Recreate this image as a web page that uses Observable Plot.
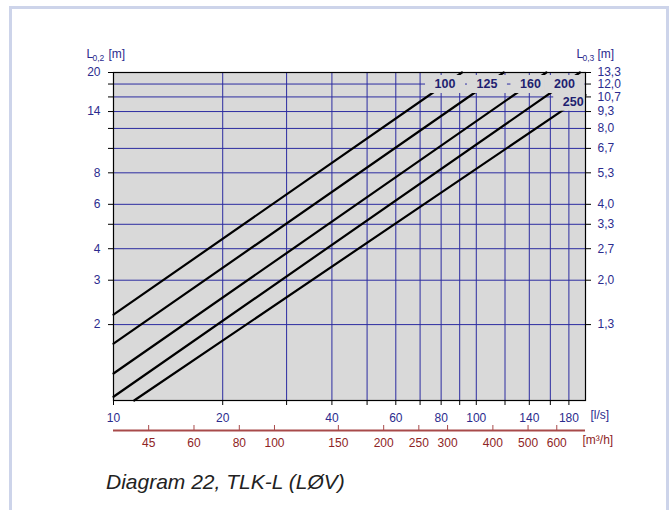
<!DOCTYPE html>
<html>
<head>
<meta charset="utf-8">
<script src="https://cdn.jsdelivr.net/npm/d3@7"></script>
<script src="https://cdn.jsdelivr.net/npm/@observablehq/plot@0.6"></script>
<style>
  body { margin: 0; background: #fff; font-family: "Liberation Sans", Arial, sans-serif; }
  #frame { position: absolute; left: 9px; top: 6px; width: 660px; height: 520px; border: 3px solid #cdd4ea; box-sizing: border-box; background: #fff; }
  #chart { position: absolute; left: 0; top: 0; }
  #cap { position: absolute; left: 106px; top: 471px; font: italic 21px/1 "Liberation Sans", Arial, sans-serif; color: #222; white-space: nowrap; }
</style>
</head>
<body>
<div id="frame"></div>
<div id="chart"></div>
<div id="cap">Diagram 22, TLK-L (LØV)</div>
<script>
// ---- data ----
const gridX = [20, 30, 40, 50, 60, 70, 80, 90, 100, 120, 140, 160, 180];
const ticksX = [10, 20, 30, 40, 50, 60, 70, 80, 90, 100, 120, 140, 160, 180];
const labelsX = [10, 20, 40, 60, 80, 100, 140, 180];
const gridY = [20, 18, 16, 14, 12, 10, 8, 6, 5, 4, 3, 2];
const labelsYLeft = [20, 14, 8, 6, 4, 3, 2];
const labelsYRight = ["13,3", "12,0", "10,7", "9,3", "8,0", "6,7", "5,3", "4,0", "3,3", "2,7", "2,0", "1,3"];
const ticksM3h = [45, 60, 80, 100, 150, 200, 250, 300, 400, 500, 600];

const sizes = ["100", "125", "160", "200", "250"];
const startQ = [10, 10, 10, 10, 11.4];
const startL = [2.19, 1.68, 1.28, 1.035, 1];
const endQ = [91.3, 119, 156, 193, 200];
const endL = [20, 20, 20, 20, 16.3];
const labelQ = [82, 107, 141, 175, 185];
const labelL = [18, 18, 18, 18, 15.3];

// ---- tables ----
const lines = sizes.flatMap((s, i) => [
  {size: s, q: startQ[i], L: startL[i]},
  {size: s, q: endQ[i], L: endL[i]}
]);
const labels = sizes.map((s, i) => ({size: s, q: labelQ[i], L: labelL[i]}));
const m3hRows = ticksM3h.map(v => ({q: v / 3.6, label: String(v)}));

const navy = "#2b2b8e";
const gridColor = "#2c2ca0";
const bg = "#d9d9d9";
const red = "#a84a4a";
const darkRed = "#8e2424";

const boxSymbol = {
  draw(ctx) {
    ctx.moveTo(-20, -9); ctx.lineTo(20, -9); ctx.lineTo(20, 9); ctx.lineTo(-20, 9); ctx.closePath();
  }
};

const chart = Plot.plot({
  width: 669,
  height: 462,
  marginLeft: 113,
  marginRight: 84,
  marginTop: 72,
  marginBottom: 62,
  style: {fontFamily: "'Liberation Sans', Arial, sans-serif", fontSize: "12px", background: "transparent", overflow: "visible"},
  x: {type: "log", domain: [10, 200]},
  y: {type: "log", domain: [1, 20]},
  marks: [
    Plot.frame({fill: bg, stroke: null}),
    Plot.ruleX(gridX, {stroke: gridColor, strokeWidth: 1}),
    Plot.ruleY(gridY, {stroke: gridColor, strokeWidth: 1}),
    Plot.line(lines, {x: "q", y: "L", z: "size", stroke: "black", strokeWidth: 2.2}),
    Plot.dot(labels, {x: "q", y: "L", symbol: boxSymbol, r: 5, fill: bg, stroke: "none", clip: true}),
    Plot.text(labels, {x: "q", y: "L", text: "size", fontWeight: "bold", fontSize: 12.5, fill: "#1f1f70"}),
    Plot.frame({stroke: "black", strokeWidth: 1.2}),
    Plot.axisY(gridY, {anchor: "left", tickSize: 5, tickPadding: 8, stroke: "black", fill: navy, fontSize: 12,
      text: d => labelsYLeft.includes(d) ? String(d) : "", label: null}),
    Plot.axisY(gridY, {anchor: "right", tickSize: 5, tickPadding: 7, stroke: "black", fill: navy, fontSize: 12,
      text: d => labelsYRight[gridY.indexOf(d)], label: null}),
    Plot.axisX(ticksX, {anchor: "bottom", tickSize: 5, tickPadding: 8, stroke: "black", fill: navy, fontSize: 12,
      text: d => labelsX.includes(d) ? String(d) : "", label: null}),
    Plot.ruleY([1], {dy: 30, stroke: red, strokeWidth: 2}),
    Plot.axisX(m3hRows, {x: "q", anchor: "bottom", dy: 30, tickSize: -5, tickPadding: 13, stroke: red, fill: darkRed, fontSize: 12,
      text: "label", label: null}),
    Plot.text(["L"], {frameAnchor: "top-left", dx: -27, dy: -23, textAnchor: "start", fontSize: 12, fill: navy}),
    Plot.text(["0,2"], {frameAnchor: "top-left", dx: -21, dy: -18, textAnchor: "start", fontSize: 8.5, fill: navy}),
    Plot.text(["[m]"], {frameAnchor: "top-left", dx: -5, dy: -23, textAnchor: "start", fontSize: 12, fill: navy}),
    Plot.text(["L"], {frameAnchor: "top-right", dx: -9, dy: -23, textAnchor: "start", fontSize: 12, fill: navy}),
    Plot.text(["0,3"], {frameAnchor: "top-right", dx: -3, dy: -18, textAnchor: "start", fontSize: 8.5, fill: navy}),
    Plot.text(["[m]"], {frameAnchor: "top-right", dx: 12, dy: -23, textAnchor: "start", fontSize: 12, fill: navy}),
    Plot.text(["[l/s]"], {frameAnchor: "bottom-right", dx: 5, dy: 18, textAnchor: "start", fontSize: 12, fill: navy}),
    Plot.text(["[m³/h]"], {frameAnchor: "bottom-right", dx: -3, dy: 43, textAnchor: "start", fontSize: 12, fill: darkRed})
  ]
});
document.getElementById("chart").appendChild(chart);
</script>
</body>
</html>
